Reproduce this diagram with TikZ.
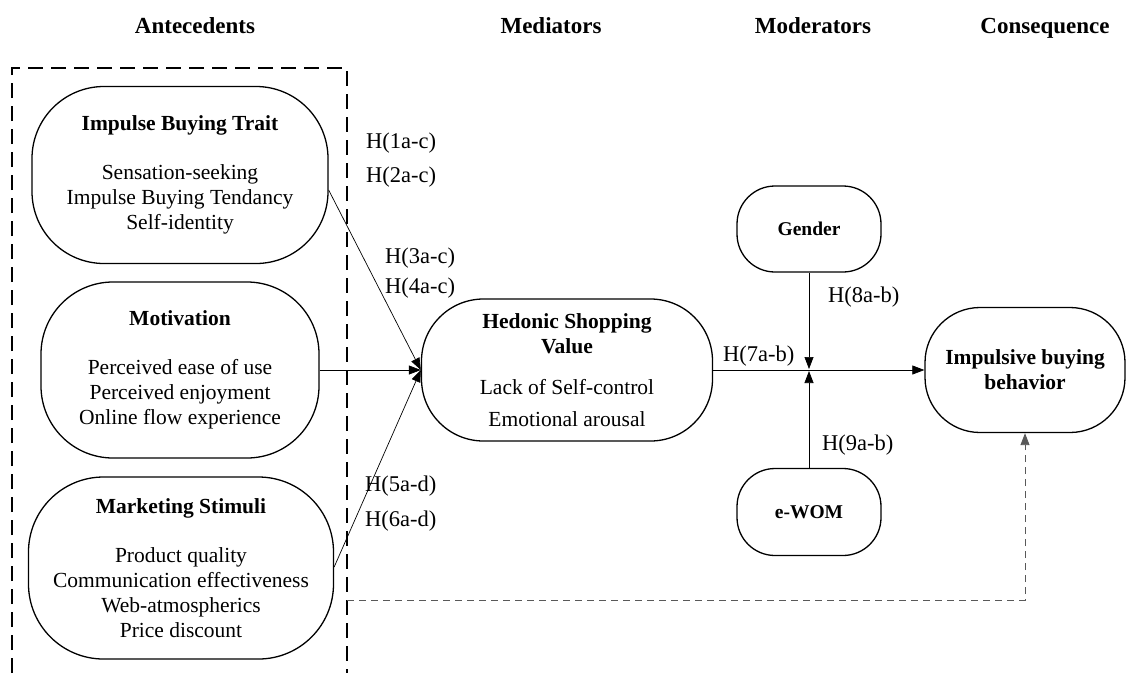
\documentclass[tikz,border=0pt]{standalone}
\usepackage{fontspec}
\setmainfont{Liberation Serif}
\usetikzlibrary{arrows.meta}
\tikzset{
  construct/.style={draw, line width=1.3pt, align=center, inner sep=0pt,
    font=\fontsize{21.5}{25}\selectfont},
  smallconstruct/.style={construct, font=\fontsize{19.5}{23}\selectfont\bfseries},
  head/.style={font=\fontsize{23}{27}\selectfont\bfseries, inner sep=0pt, anchor=base},
  hyp/.style={font=\fontsize{22.5}{26}\selectfont, anchor=west, inner sep=0pt},
  conn/.style={line width=0.7pt, -{Triangle[length=12pt,width=9pt]}},
  dconn/.style={line width=0.9pt, draw=black!65, dash pattern=on 7pt off 5pt,
    -{Triangle[length=12pt,width=9pt]}},
  boxdash/.style={line width=1.5pt, dash pattern=on 15pt off 8pt}
}
\begin{document}
\begin{tikzpicture}[x=1pt,y=-1pt]
\useasboundingbox (0,0) rectangle (1126,673);
% headings
\node[head] (hA) at (195,33) {Antecedents};
\node[head] (hM) at (551,33) {Mediators};
\node[head] (hMo) at (813,33) {Moderators};
\node[head] (hC) at (1045,33) {Consequence};
% dashed box
\draw[boxdash] (12,673) -- (12,68) -- (347,68) -- (347,673);
% antecedents
\node[construct, rounded corners=72pt, minimum width=296pt, minimum height=177pt] (ibt) at (180,175)
  {\textbf{Impulse Buying Trait}\\[24pt]Sensation-seeking\\Impulse Buying Tendancy\\Self-identity};
\node[construct, rounded corners=72pt, minimum width=278pt, minimum height=176pt] (mot) at (180,370)
  {\textbf{Motivation}\\[24pt]Perceived ease of use\\Perceived enjoyment\\Online flow experience};
\node[construct, rounded corners=75pt, minimum width=305pt, minimum height=182pt] (ms) at (181,568)
  {\textbf{Marketing Stimuli}\\[24pt]Product quality\\Communication effectiveness\\Web-atmospherics\\Price discount};
% mediator
\node[construct, rounded corners=62pt, minimum width=291pt, minimum height=142pt] (hsv) at (567,370)
  {\textbf{Hedonic Shopping}\\\textbf{Value}\\[16pt]Lack of Self-control\\[7pt]Emotional arousal};
% moderators
\node[smallconstruct, rounded corners=38pt, minimum width=144pt, minimum height=86pt] (gen) at (809,229) {Gender};
\node[smallconstruct, rounded corners=38pt, minimum width=144pt, minimum height=87pt] (ewom) at (809,512) {e-WOM};
% consequence
\node[construct, rounded corners=55pt, minimum width=200pt, minimum height=125pt] (ibb) at (1025,370)
  {\textbf{Impulsive buying}\\\textbf{behavior}};
% connectors
\coordinate (j) at (809,370);
\coordinate (d0) at (347,600);
\draw[conn] ([yshift=-15pt]ibt.east) -- (hsv.west);
\draw[conn] (mot.east) -- (hsv.west);
\draw[conn] ([yshift=1pt]ms.east) -- (hsv.west);
\draw[conn] (hsv.east) -- (ibb.west);
\draw[conn] (gen.south) -- ([yshift=1pt]j);
\draw[conn] (ewom.north) -- ([yshift=-1pt]j);
\draw[dconn] (d0) -| (ibb.south);
% hypothesis labels
\node[hyp] (h1) at (366,143) {H(1a-c)};
\node[hyp] (h2) at (366,177) {H(2a-c)};
\node[hyp] (h3) at (385,258) {H(3a-c)};
\node[hyp] (h4) at (385,288) {H(4a-c)};
\node[hyp] (h5) at (365,486) {H(5a-d)};
\node[hyp] (h6) at (365,521) {H(6a-d)};
\node[hyp] (h7) at (723,356) {H(7a-b)};
\node[hyp] (h8) at (828,297) {H(8a-b)};
\node[hyp] (h9) at (822,445) {H(9a-b)};
\end{tikzpicture}
\end{document}
